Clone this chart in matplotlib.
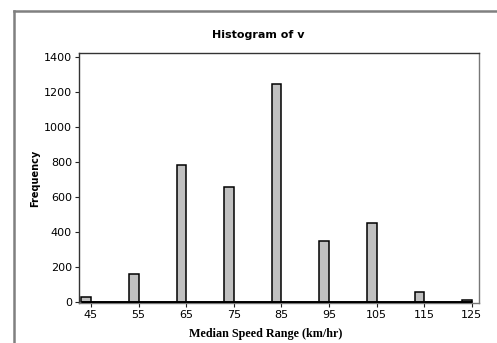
import numpy as np
import matplotlib
matplotlib.use("Agg")
import matplotlib.pyplot as plt
from matplotlib.lines import Line2D

# data (bins of width 2, upper edge = speed)
speeds = [45, 55, 65, 75, 85, 95, 105, 115, 125]
freq = [34, 160, 783, 661, 1248, 353, 456, 57, 15]
xticks = [45, 55, 65, 75, 85, 95, 105, 115, 125]
yticks = [0, 200, 400, 600, 800, 1000, 1200, 1400]

W, H = 497, 343
fig = plt.figure(figsize=(W / 100, H / 100), dpi=100)

# axes box in pixel coords: left 79, right 479, top 53, bottom 303
ax = fig.add_axes([79 / W, 1 - 303 / H, (479 - 79) / W, (303 - 53) / H])

bins = np.arange(43, 126, 2)
ax.hist([s - 1 for s in speeds], bins=bins, weights=freq,
        color="#c0c0c0", edgecolor="black", linewidth=1.1, zorder=2)
# the empty bins show up as a solid black baseline
ax.hlines(0, bins[0], bins[-1], color="black", lw=2.0, zorder=3)

ax.set_xlim(42.5, 126.5)
ax.set_ylim(-3, 1423)
ax.set_xticks(xticks)
ax.set_yticks(yticks)
ax.tick_params(labelsize=8, length=3, width=0.8, colors="#222222",
               labelcolor="black", pad=2)
for side, sp in ax.spines.items():
    sp.set_linewidth(1.0)
    sp.set_color("#333333" if side in ("left", "top") else "#777777")

fig.text(258 / W, 1 - 35 / H, "Histogram of v", ha="center", va="center",
         fontsize=8, fontweight="bold", family="DejaVu Sans")
fig.text(35 / W, 1 - 178 / H, "Frequency", ha="center", va="center",
         rotation=90, fontsize=7, fontweight="bold", family="DejaVu Sans")
fig.text(266 / W, 1 - 334 / H, "Median Speed Range (km/hr)", ha="center",
         va="center", fontsize=8.7, fontweight="bold", family="Liberation Serif")

# outer frame (only top and left edges visible in the crop)
fig.add_artist(Line2D([14 / W, 1], [1 - 11 / H, 1 - 11 / H], color="#808080", lw=1.8))
fig.add_artist(Line2D([14 / W, 14 / W], [0, 1 - 11 / H], color="#808080", lw=1.8))

fig.savefig("out.png", dpi=100)
